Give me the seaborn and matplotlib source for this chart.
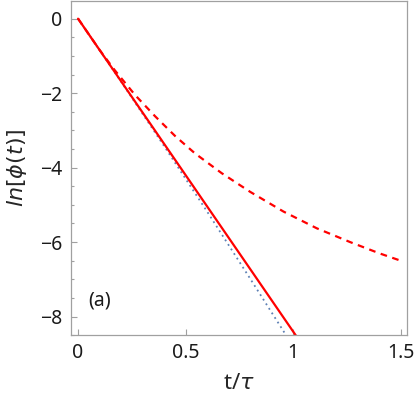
import seaborn as sns
import matplotlib.pyplot as plt

# values
t_solid = [0, 1.02]
y_solid = [0, -8.57]

t_dotted = [0, 0.2, 0.4, 0.6, 0.8, 1.0]
y_dotted = [0, -1.69, -3.42, -5.18, -6.98, -8.8]

t_dashed = [0, 0.1, 0.17, 0.265, 0.358, 0.451, 0.544, 0.668, 0.8, 0.955, 1.11, 1.265, 1.4, 1.5]
y_dashed = [0, -0.84, -1.38, -2.05, -2.62, -3.15, -3.62, -4.15, -4.65, -5.18, -5.63, -6.0, -6.3, -6.5]

x_ticks = [0, 0.5, 1, 1.5]
x_ticklabels = ["0", "0.5", "1", "1.5"]
y_ticks = [0, -2, -4, -6, -8]

sns.set_style("white")
plt.rcParams['font.family'] = ['Noto Sans', 'DejaVu Sans']

fig = plt.figure(figsize=(4.15, 3.99), dpi=100)
ax = fig.add_axes([0.171, 0.160, 0.810, 0.838])

sns.lineplot(x=t_dotted, y=y_dotted, ax=ax, color="#5E81B5", linestyle=(0, (1, 2)), linewidth=1.3)
sns.lineplot(x=t_solid, y=y_solid, ax=ax, color="red", linewidth=1.6)
sns.lineplot(x=t_dashed, y=y_dashed, ax=ax, color="red", linestyle=(0, (3, 2.5)), linewidth=1.6)

ax.set_xlim(-0.033, 1.53)
ax.set_ylim(-8.45, 0.48)
ax.set_xticks(x_ticks)
ax.set_xticklabels(x_ticklabels)
ax.set_yticks(y_ticks)
ax.set_yticklabels(["0" if v == 0 else "\u2212%d" % abs(v) for v in y_ticks])
ax.set_yticks([-8.5 + 0.5 * i for i in range(18) if (-8.5 + 0.5 * i) not in y_ticks], minor=True)

for s in ax.spines.values():
    s.set_color("#a0a0a0")
    s.set_linewidth(0.9)
ax.tick_params(direction="in", length=4, width=0.8, color="#a0a0a0", labelsize=14, labelcolor="#1a1a1a",
               left=True, bottom=True, pad=6)
ax.tick_params(which="minor", direction="in", length=2.5, width=0.8, color="#a0a0a0", left=True)

ax.set_xlabel("t/$\\tau$", fontsize=16, labelpad=7)
ax.set_ylabel("$ln[\\phi(t)]$", fontsize=16, labelpad=8)
ax.text(0.1, -7.57, "(a)", fontsize=14, ha="center", va="center", color="#1a1a1a")

fig.savefig("out.png", dpi=100)
